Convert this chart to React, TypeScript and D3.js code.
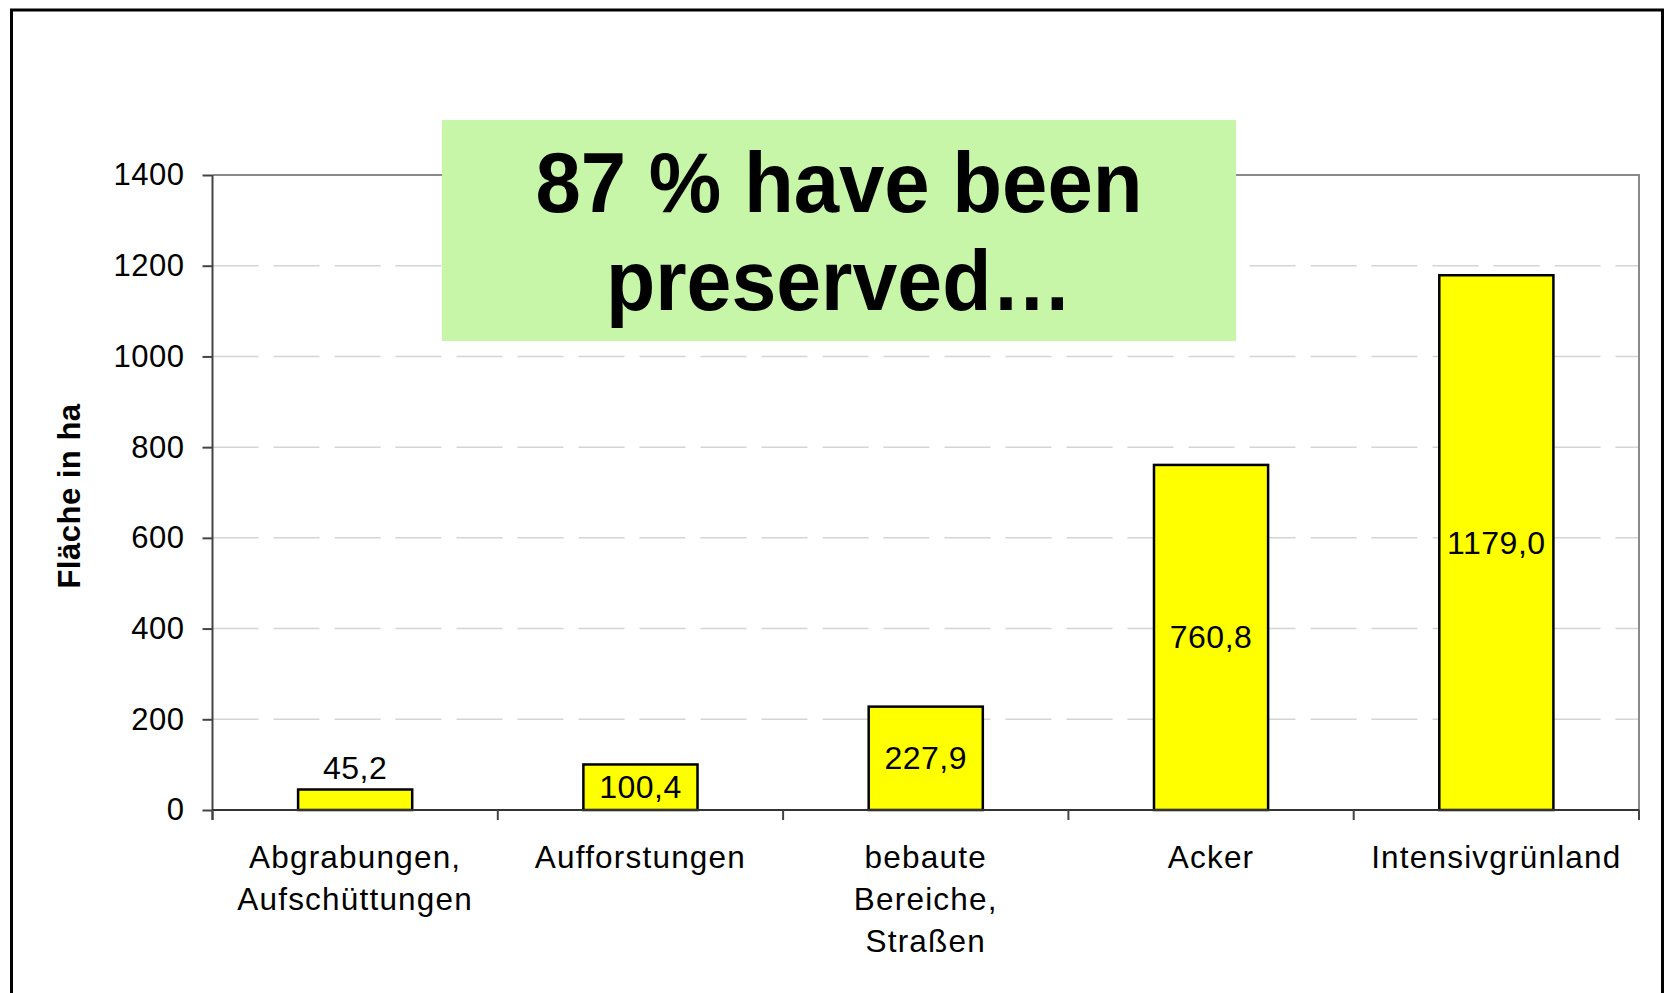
// App.tsx
import React, { useRef, useEffect } from "react";
import * as d3 from "d3";

const categories = [
  ["Abgrabungen,", "Aufschüttungen"],
  ["Aufforstungen"],
  ["bebaute", "Bereiche,", "Straßen"],
  ["Acker"],
  ["Intensivgrünland"],
];
const values = [45.2, 100.4, 227.9, 760.8, 1179.0];
const yTicks = [0, 200, 400, 600, 800, 1000, 1200, 1400];
const yTitle = "Fläche in ha";
const noteLines = ["87 % have been", "preserved…"];

const de = d3.formatLocale({
  decimal: ",",
  thousands: ".",
  grouping: [3],
  currency: ["", " €"],
});
const fmt = de.format(".1f");

const FONT = "'Liberation Sans', Arial, Helvetica, sans-serif";

const App = () => {
  const ref = useRef<SVGSVGElement>(null);

  useEffect(() => {
    const svg = d3.select(ref.current);
    svg.selectAll("*").remove();

    const W = 1667;
    const H = 993;
    const margin = { top: 175, left: 212.5, right: 28, bottom: 183 };
    const width = W - margin.left - margin.right;
    const height = H - margin.top - margin.bottom;

    // outer frame (bottom edge falls off the page)
    svg
      .append("rect")
      .attr("x", 11.5)
      .attr("y", 10)
      .attr("width", 1651)
      .attr("height", 1020)
      .attr("fill", "none")
      .attr("stroke", "#000")
      .attr("stroke-width", 3);

    const g = svg
      .append("g")
      .attr("transform", `translate(${margin.left},${margin.top})`);

    const x = d3
      .scaleBand<number>()
      .domain(d3.range(values.length))
      .range([0, width])
      .padding(0);

    const y = d3.scaleLinear().domain([0, 1400]).range([height, 0]);

    // dashed gridlines
    g.selectAll(".grid")
      .data(yTicks.filter((t) => t > 0 && t < 1400))
      .enter()
      .append("line")
      .attr("x1", 0)
      .attr("x2", width)
      .attr("y1", (d) => y(d))
      .attr("y2", (d) => y(d))
      .attr("stroke", "#d4d4d4")
      .attr("stroke-width", 1.5)
      .attr("stroke-dasharray", "46,15");

    // plot area frame (top + right)
    g.append("path")
      .attr("d", `M0,${y(1400)}H${width}V${height}`)
      .attr("fill", "none")
      .attr("stroke", "#8a8a8a")
      .attr("stroke-width", 2);

    // bars
    const barW = x.bandwidth() * 0.4;
    g.selectAll(".bar")
      .data(values)
      .enter()
      .append("rect")
      .attr("x", (d, i) => (x(i) as number) + x.bandwidth() / 2 - barW / 2)
      .attr("y", (d) => y(d))
      .attr("width", barW)
      .attr("height", (d) => height - y(d))
      .attr("fill", "#ffff00")
      .attr("stroke", "#000")
      .attr("stroke-width", 2.5);

    // value labels: centered in the bar, above it if the bar is too short
    g.selectAll(".val")
      .data(values)
      .enter()
      .append("text")
      .attr("x", (d, i) => (x(i) as number) + x.bandwidth() / 2)
      .attr("y", (d) => {
        const h = height - y(d);
        return h < 34 ? y(d) - 10 : y(d) + h / 2 + 11;
      })
      .attr("text-anchor", "middle")
      .style("font-family", FONT)
      .style("font-size", "32px")
      .style("letter-spacing", "0.5px")
      .style("fill", "#000")
      .text((d) => fmt(d));

    // y axis
    const yAxis = g
      .append("g")
      .call(
        d3
          .axisLeft(y)
          .tickValues(yTicks)
          .tickFormat((d) => String(d))
          .tickSize(10)
          .tickPadding(18)
      );
    yAxis.select(".domain").remove();
    yAxis.selectAll("line").attr("stroke", "#444").attr("stroke-width", 2);
    yAxis
      .selectAll("text")
      .style("font-family", FONT)
      .style("font-size", "31px")
      .style("letter-spacing", "0.5px")
      .style("fill", "#000");

    g.append("line")
      .attr("x1", 0)
      .attr("x2", 0)
      .attr("y1", y(1400))
      .attr("y2", height + 10)
      .attr("stroke", "#444")
      .attr("stroke-width", 2);

    // x axis with ticks on category boundaries
    const bounds = d3.range(values.length + 1).map((i) => i * x.step());
    g.append("line")
      .attr("x1", 0)
      .attr("x2", width)
      .attr("y1", height)
      .attr("y2", height)
      .attr("stroke", "#333")
      .attr("stroke-width", 2);
    g.selectAll(".xtick")
      .data(bounds)
      .enter()
      .append("line")
      .attr("x1", (d) => d)
      .attr("x2", (d) => d)
      .attr("y1", height)
      .attr("y2", height + 10)
      .attr("stroke", "#444")
      .attr("stroke-width", 2);

    // category labels
    const cat = g
      .selectAll(".cat")
      .data(categories)
      .enter()
      .append("text")
      .attr("text-anchor", "middle")
      .style("font-family", FONT)
      .style("font-size", "31.5px")
      .style("letter-spacing", "1.2px")
      .style("fill", "#000");
    cat
      .selectAll("tspan")
      .data((d, i) => d.map((line) => ({ line, i })))
      .enter()
      .append("tspan")
      .attr("x", (d) => (x(d.i) as number) + x.bandwidth() / 2)
      .attr("y", (d, j) => height + 58 + j * 42)
      .text((d) => d.line);

    // y axis title
    svg
      .append("text")
      .attr("transform", `translate(80,496) rotate(-90)`)
      .attr("text-anchor", "middle")
      .style("font-family", FONT)
      .style("font-size", "31px")
      .style("font-weight", "bold")
      .style("letter-spacing", "0.5px")
      .text(yTitle);

    // green note box
    const box = { x: 442, y: 120, w: 794, h: 221 };
    svg
      .append("rect")
      .attr("x", box.x)
      .attr("y", box.y)
      .attr("width", box.w)
      .attr("height", box.h)
      .attr("fill", "#c8f6a8");

    const noteWidths = [607, 466];
    svg
      .selectAll(".note")
      .data(noteLines)
      .enter()
      .append("text")
      .attr("x", box.x + box.w / 2)
      .attr("y", (d, i) => 212 + i * 98)
      .attr("text-anchor", "middle")
      .attr("textLength", (d, i) => noteWidths[i])
      .attr("lengthAdjust", "spacingAndGlyphs")
      .style("font-family", FONT)
      .style("font-size", "85px")
      .style("font-weight", "bold")
      .style("fill", "#000")
      .text((d) => d);
  }, []);

  return (
    <svg
      ref={ref}
      width={1667}
      height={993}
      style={{ position: "absolute", left: 0, top: 0, display: "block", background: "#fff" }}
    />
  );
};

export default App;
